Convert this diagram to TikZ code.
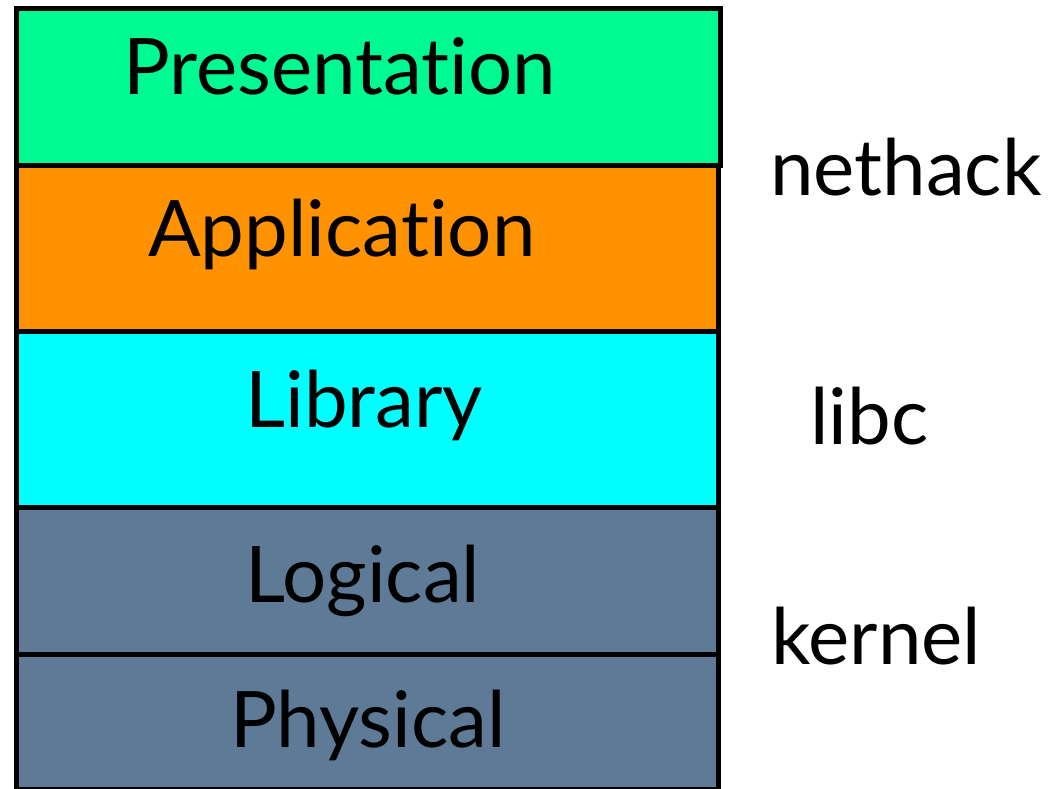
\documentclass[tikz,border=0pt]{standalone}
\usepackage{fontspec}
\setmainfont{Lato}[Ligatures=NoCommon]
\definecolor{presgreen}{RGB}{0,250,146}
\definecolor{apporange}{RGB}{255,146,0}
\definecolor{libcyan}{RGB}{0,255,255}
\definecolor{kerngray}{RGB}{95,122,150}
\begin{document}
\begin{tikzpicture}[x=1pt,y=1pt,
  layer/.style={draw=black, line width=5pt, inner sep=0pt, outer sep=0pt, anchor=north west},
  lbl/.style={inner sep=0pt, anchor=base west, font=\fontsize{78}{80}\selectfont}]
\useasboundingbox (0,0) rectangle (1061,789);
\clip (0,0) rectangle (1061,789);
\node[layer, fill=presgreen, minimum width=704pt, minimum height=157pt] (pres) at (16.5,780.5) {};
\node[layer, fill=apporange, minimum width=701.5pt, minimum height=166pt] (app) at (16.5,623.5) {};
\node[layer, fill=libcyan, minimum width=701.5pt, minimum height=176pt] (lib) at (16.5,457.5) {};
\node[layer, fill=kerngray, minimum width=701.5pt, minimum height=147pt] (log) at (16.5,281.5) {};
\node[layer, fill=kerngray, minimum width=701.5pt, minimum height=135pt] (phys) at (16.5,134.5) {};
\node[lbl] (tpres) at (123,694) {Presentation};
\node[lbl] (tapp) at (148,532) {Application};
\node[lbl] (tlib) at (245,361) {Library};
\node[lbl] (tlog) at (245,186) {Logical};
\node[lbl] (tphys) at (230,41) {Physical};
\node[lbl] (tnet) at (770,593) {nethack};
\node[lbl] (tlibc) at (810,344) {libc};
\node[lbl] (tkern) at (771,124) {kernel};
\end{tikzpicture}
\end{document}
